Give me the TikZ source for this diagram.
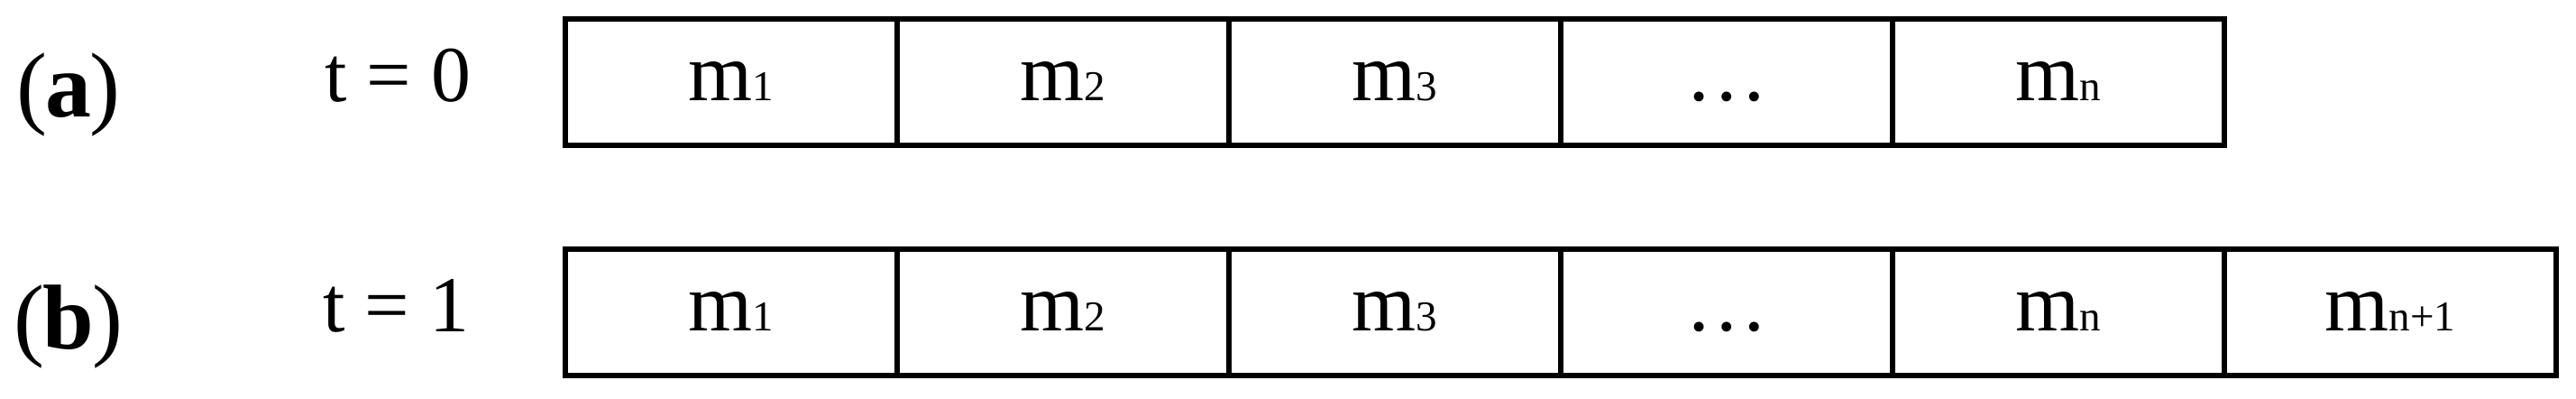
\documentclass[tikz,border=0pt]{standalone}
\usepackage{fontspec}
\setmainfont{Liberation Serif}
\newcommand{\msub}[1]{m{\fontsize{13.4}{14}\selectfont #1}}
\newcommand{\panel}[1]{(\kern-0.5pt\textbf{#1}\kern-0.5pt)}
\begin{document}
\begin{tikzpicture}
        \useasboundingbox (0, 0) rectangle (28.57, 4.42);
        \begin{scope}[every node/.style={draw, line width=1.5pt, inner sep=0pt,
                minimum width=3.68cm, minimum height=1.40cm,
                text height=4.2mm, text depth=0mm, font=\fontsize{26}{30}\selectfont}]
            \node (a1) at (8.11, 3.51) {\msub{1}};
            \node (a2) at (11.79, 3.51) {\msub{2}};
            \node (a3) at (15.47, 3.51) {\msub{3}};
            \node (a4) at (19.15, 3.51) {…};
            \node (a5) at (22.83, 3.51) {\msub{n}};
            \node (b1) at (8.11, 0.96) {\msub{1}};
            \node (b2) at (11.79, 0.96) {\msub{2}};
            \node (b3) at (15.47, 0.96) {\msub{3}};
            \node (b4) at (19.15, 0.96) {…};
            \node (b5) at (22.83, 0.96) {\msub{n}};
            \node (b6) at (26.51, 0.96) {\msub{n+1}};
        \end{scope}
        \begin{scope}[every node/.style={anchor=base, inner sep=0pt}]
            \node[font=\fontsize{29}{34}\selectfont] (la) at (0.76, 3.12) {\panel{a}};
            \node[font=\fontsize{29}{34}\selectfont] (lb) at (0.76, 0.55) {\panel{b}};
            \node[font=\fontsize{25}{30}\selectfont] (ta) at (4.41, 3.29) {t = 0};
            \node[font=\fontsize{25}{30}\selectfont] (tb) at (4.39, 0.74) {t = 1};
        \end{scope}
    \end{tikzpicture}
\end{document}
